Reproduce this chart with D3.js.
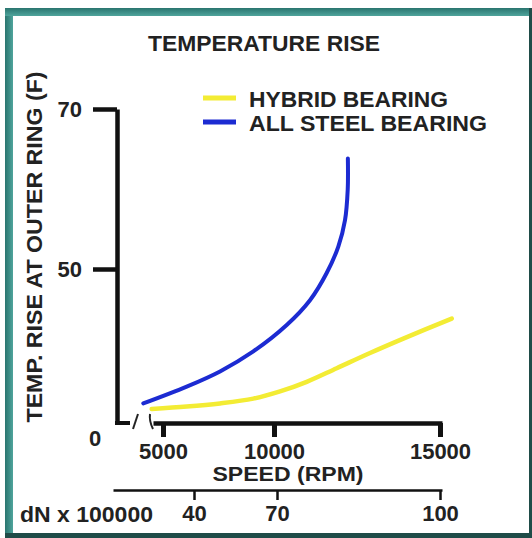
<!DOCTYPE html>
<html>
<head>
<meta charset="utf-8">
<script src="https://cdn.jsdelivr.net/npm/d3@7"></script>
<style>
body { margin: 0; background: #fff; }
text { font-family: "Liberation Sans", Arial, sans-serif; font-weight: bold; fill: #222; }
</style>
</head>
<body>
<script>
// values (speed in rpm, temperature rise in F)
const hybridRpm  = [4491, 6068, 7568, 9068, 10181, 10985, 11889, 12892, 13895, 15352]
const hybridRise = [32.5, 32.8, 33.2, 33.8, 34.7, 35.9, 37.6, 39.5, 41.3, 43.8]
const steelRpm   = [4113, 6068, 7568, 9068, 10383, 11084, 11587, 11937, 12139, 12220, 12225]
const steelRise  = [33.2, 35.3, 37.2, 39.7, 43.0, 46.1, 49.5, 52.8, 56.1, 59.9, 63.8]
const speedTicks = [5000, 10000, 15000]
const riseTicks  = [50, 70]
const dnTicks    = [40, 70, 100]
const seriesNames = ["HYBRID BEARING", "ALL STEEL BEARING"]
const seriesColors = ["#f3ec34", "#1c2bd2"]

const width = 532
const height = 538
const svg = d3.select("body")
    .append("svg")
    .attr("width", width)
    .attr("height", height)

// teal frame
const defs = svg.append("defs")
const gl = defs.append("linearGradient").attr("id", "gl")
gl.append("stop").attr("offset", "0").attr("stop-color", "#2a756f")
gl.append("stop").attr("offset", "1").attr("stop-color", "#4fa49c")
const gt = defs.append("linearGradient").attr("id", "gt")
    .attr("x1", 0).attr("y1", 0).attr("x2", 0).attr("y2", 1)
gt.append("stop").attr("offset", "0").attr("stop-color", "#2a756f")
gt.append("stop").attr("offset", "1").attr("stop-color", "#4fa49c")
svg.append("rect").attr("x", 5).attr("y", 8).attr("width", 527).attr("height", 530).attr("fill", "#1f4c48")
svg.append("rect").attr("x", 5).attr("y", 8).attr("width", 8).attr("height", 525).attr("fill", "url(#gl)")
svg.append("rect").attr("x", 5).attr("y", 8).attr("width", 524).attr("height", 8).attr("fill", "url(#gt)")
svg.append("rect").attr("x", 13).attr("y", 16).attr("width", 516).attr("height", 517).attr("fill", "#fff")

// scales: the speed and dN axes in the picture are not evenly spaced
const x = d3.scaleLinear()
    .domain([4550, 5000, 10000, 15000, 15060])
    .range([153, 163, 274, 440, 442])
const y = d3.scaleLinear()
    .domain([30.75, 70])
    .range([423, 109])
const dn = d3.scaleLinear()
    .domain([10.7, 40, 70, 100, 100.7])
    .range([113, 194, 277, 440, 442])

function styleAxis(g, lineW, tickW) {
    g.select(".domain").attr("stroke", "#111").attr("stroke-width", lineW)
    g.selectAll(".tick line").attr("stroke", "#111").attr("stroke-width", tickW)
    g.selectAll(".tick text")
        .style("font-family", "'Liberation Sans', Arial, sans-serif")
        .style("font-weight", "bold")
        .style("font-size", "22px")
        .attr("fill", "#222")
}

// y axis
const gy = svg.append("g")
    .attr("transform", "translate(117,0)")
    .call(d3.axisLeft(y).tickValues(riseTicks).tickSize(24).tickSizeOuter(0).tickPadding(11))
styleAxis(gy, 4.5, 4.5)
const yBottom = y(y.domain()[0])
svg.append("path")
    .attr("d", `M117,${yBottom - 2}V${yBottom}H130`)
    .attr("fill", "none").attr("stroke", "#111").attr("stroke-width", 4)
svg.append("text").attr("x", 95).attr("y", yBottom + 23)
    .attr("text-anchor", "middle").style("font-size", "22px").text("0")

// axis break marks
svg.append("path").attr("d", `M133,${yBottom + 6}L138,${yBottom - 9}`)
    .attr("fill", "none").attr("stroke", "#222").attr("stroke-width", 2)
svg.append("path").attr("d", `M150,${yBottom - 9}Q149,${yBottom - 2} 153,${yBottom + 6}`)
    .attr("fill", "none").attr("stroke", "#222").attr("stroke-width", 2)

// speed axis
const gx = svg.append("g")
    .attr("transform", `translate(0,${yBottom})`)
    .call(d3.axisBottom(x).tickValues(speedTicks).tickSize(14).tickSizeOuter(0).tickPadding(6)
        .tickFormat(d3.format("d")))
styleAxis(gx, 4.5, 5)

// dN axis
const gdn = svg.append("g")
    .attr("transform", "translate(0,490)")
    .call(d3.axisBottom(dn).tickValues(dnTicks).tickSize(10).tickSizeOuter(0).tickPadding(5))
styleAxis(gdn, 2.5, 2.5)

// titles
svg.append("text").attr("x", 264).attr("y", 51).attr("text-anchor", "middle")
    .style("font-size", "22px").attr("textLength", 232).attr("lengthAdjust", "spacingAndGlyphs")
    .text("TEMPERATURE RISE")
svg.append("text").attr("transform", "translate(42,247) rotate(-90)").attr("text-anchor", "middle")
    .style("font-size", "22px").attr("textLength", 351).attr("lengthAdjust", "spacingAndGlyphs")
    .text("TEMP. RISE AT OUTER RING (F)")
svg.append("text").attr("x", 288).attr("y", 481).attr("text-anchor", "middle")
    .style("font-size", "21px").attr("textLength", 151).attr("lengthAdjust", "spacingAndGlyphs")
    .text("SPEED (RPM)")
svg.append("text").attr("x", 20).attr("y", 522)
    .style("font-size", "22px").attr("textLength", 133).attr("lengthAdjust", "spacingAndGlyphs")
    .text("dN x 100000")

// curves
const line = d3.line()
    .x(d => x(d[0]))
    .y(d => y(d[1]))
    .curve(d3.curveCatmullRom)
const series = [
    d3.zip(hybridRpm, hybridRise),
    d3.zip(steelRpm, steelRise)
]
svg.selectAll(".curve")
    .data(series)
    .join("path")
    .attr("class", "curve")
    .attr("d", line)
    .attr("fill", "none")
    .attr("stroke", (d, i) => seriesColors[i])
    .attr("stroke-width", (d, i) => i == 0 ? 4.5 : 4)
    .attr("stroke-linecap", "round")

// legend
const legendW = [199, 238]
const legend = svg.selectAll(".legend")
    .data(seriesNames)
    .join("g")
    .attr("class", "legend")
    .attr("transform", (d, i) => `translate(203,${98 + i * 24})`)
legend.append("line")
    .attr("x1", 0).attr("x2", 33)
    .attr("stroke", (d, i) => seriesColors[i])
    .attr("stroke-width", 5)
legend.append("text")
    .attr("x", 46).attr("y", 9)
    .style("font-size", "22px")
    .attr("textLength", (d, i) => legendW[i]).attr("lengthAdjust", "spacingAndGlyphs")
    .text(d => d)
</script>
</body>
</html>
